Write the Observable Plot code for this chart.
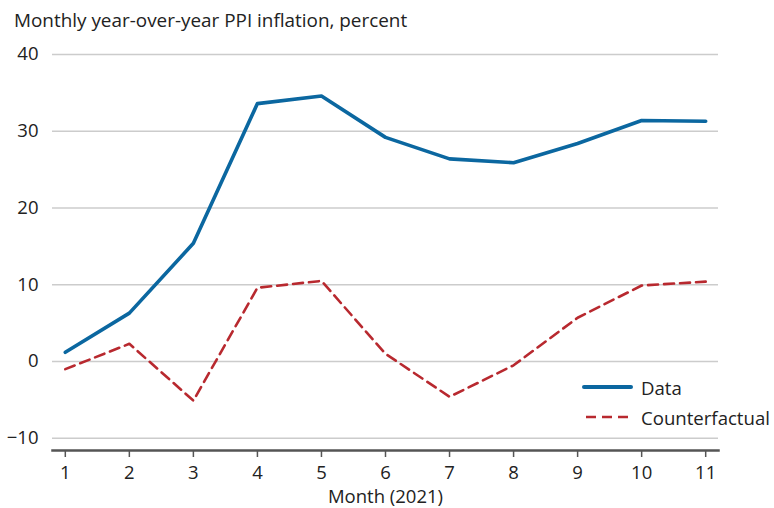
<!DOCTYPE html>
<html>
<head>
<meta charset="utf-8">
<script src="https://cdn.jsdelivr.net/npm/d3@7"></script>
<script src="https://cdn.jsdelivr.net/npm/@observablehq/plot@0.6"></script>
<style>
  body { margin: 0; background: white; font-family: "Open Sans", sans-serif; color: #222; }
  #wrap { position: relative; width: 774px; height: 508px; }
  #title { position: absolute; left: 14px; top: 7px; font-size: 18.9px; line-height: 26px; white-space: nowrap; }
  #chart { position: absolute; left: 0; top: 36px; }
  #legend { position: absolute; left: 580px; top: 372px; font-size: 18.6px; }
  .row { display: flex; align-items: center; height: 30px; white-space: nowrap; }
  .row svg { margin-right: 7px; }
</style>
</head>
<body>
<div id="wrap">
  <div id="title">Monthly year-over-year PPI inflation, percent</div>
  <div id="chart"></div>
  <div id="legend"></div>
</div>
<script>
const months = [1, 2, 3, 4, 5, 6, 7, 8, 9, 10, 11];
const dataValues = [1.2, 6.3, 15.4, 33.6, 34.6, 29.2, 26.4, 25.9, 28.4, 31.4, 31.3];
const counterfactualValues = [-1.0, 2.3, -5.1, 9.6, 10.5, 1.0, -4.6, -0.5, 5.7, 9.9, 10.4];
const yTicks = [-10, 0, 10, 20, 30, 40];
const seriesNames = ["Data", "Counterfactual"];

const blue = "#0b67a0";
const red = "#b8292f";

const rows = [];
months.forEach((m, i) => {
  rows.push({month: m, value: dataValues[i], series: seriesNames[0]});
  rows.push({month: m, value: counterfactualValues[i], series: seriesNames[1]});
});

const fmt = d => d < 0 ? "\u2212" + Math.abs(d) : String(d);

const chart = Plot.plot({
  width: 774,
  height: 472,
  marginLeft: 52,
  marginRight: 56,
  marginTop: 18,
  marginBottom: 58,
  style: { fontFamily: "'Open Sans', sans-serif", fontSize: "18.5px", color: "#222", background: "white" },
  x: { domain: [0.8, 11.2] },
  y: { domain: [-11.6, 40] },
  marks: [
    Plot.gridY(yTicks, { stroke: "#cccccc", strokeOpacity: 1, strokeWidth: 1.5 }),
    Plot.axisY(yTicks, { tickSize: 0, tickPadding: 14, label: null, tickFormat: fmt }),
    Plot.frame({ anchor: "bottom", stroke: "#555", strokeWidth: 2.5 }),
    Plot.axisX(months, { tickSize: 7, tickPadding: 8, stroke: "#555", strokeWidth: 1.5,
      tickFormat: d => String(d), label: "Month (2021)", labelAnchor: "center", labelArrow: "none", labelOffset: 52 }),
    Plot.line(rows.filter(d => d.series === seriesNames[1]), {
      x: "month", y: "value", stroke: red, strokeWidth: 2.6, strokeDasharray: "10,6", curve: "linear"
    }),
    Plot.line(rows.filter(d => d.series === seriesNames[0]), {
      x: "month", y: "value", stroke: blue, strokeWidth: 3.6, curve: "linear"
    })
  ]
});
document.getElementById("chart").appendChild(chart);

const legend = document.getElementById("legend");
legend.innerHTML = `
  <div class="row"><svg width="54" height="8"><line x1="4" x2="51" y1="4" y2="4" stroke="${blue}" stroke-width="4" stroke-linecap="round"/></svg><span>${seriesNames[0]}</span></div>
  <div class="row"><svg width="54" height="8"><line x1="6" x2="52" y1="4" y2="4" stroke="${red}" stroke-width="2.6" stroke-dasharray="10,6"/></svg><span>${seriesNames[1]}</span></div>
`;
</script>
</body>
</html>
